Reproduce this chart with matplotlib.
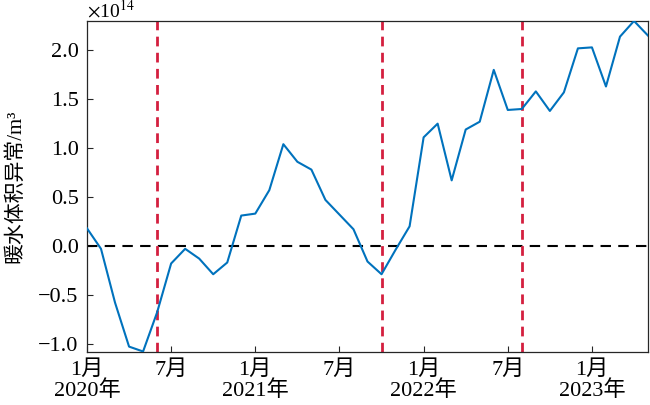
import matplotlib
matplotlib.use("Agg")
import matplotlib.pyplot as plt
import numpy as np

# Monthly warm-water volume anomaly (units of 1e14 m^3), Jan 2020 - May 2023
months = np.arange(41)
values = [0.18, -0.03, -0.58, -1.03, -1.08, -0.68, -0.18, -0.03, -0.13, -0.29,
          -0.17, 0.31, 0.33, 0.57, 1.04, 0.86, 0.78, 0.47, 0.32, 0.17,
          -0.16, -0.29, -0.04, 0.20, 1.11, 1.25, 0.67, 1.19, 1.27, 1.80,
          1.39, 1.40, 1.58, 1.38, 1.57, 2.02, 2.03, 1.63, 2.14, 2.30, 2.15]
event_months = [5, 21, 31]
tick_pos = [0, 6, 12, 18, 24, 30, 36]
tick_labels = ["1月\n2020年", "7月", "1月\n2021年", "7月", "1月\n2022年", "7月", "1月\n2023年"]
yticks = [-1.0, -0.5, 0.0, 0.5, 1.0, 1.5, 2.0]

plt.rcParams['font.family'] = ['Liberation Serif', 'Noto Sans CJK SC', 'DejaVu Sans']
plt.rcParams['mathtext.fontset'] = 'stix'

fig = plt.figure(figsize=(6.5, 4.05), dpi=100)
ax = fig.add_axes([0.1338, 0.1309, 0.8632, 0.8173])

ax.axhline(0, color='black', lw=1.5, dashes=(5, 3.5), zorder=2)
for m in event_months:
    ax.axvline(m, color='#D41F3F', lw=2.0, dashes=(3.5, 2.3), zorder=2)
ax.plot(months, values, color='#0072BD', lw=1.5, zorder=3)

ax.set_xlim(0, 40)
ax.set_ylim(-1.085, 2.30)
ax.set_xticks(tick_pos)
ax.set_xticklabels(tick_labels, fontsize=16, linespacing=1.0)
ax.set_yticks(yticks)
ax.set_yticklabels([f"{v:.1f}".replace('-', '\u2212') for v in yticks], fontsize=16)
ax.tick_params(direction='in', length=4, width=0.8, color='#262626',
               top=False, right=False, pad=6)
for s in ax.spines.values():
    s.set_color('#262626')
    s.set_linewidth(0.9)

ax.set_ylabel("暖水体积异常/m\u00b3", fontsize=15, labelpad=9)
ax.text(0.0, 1.0, r"$\times$10$^{14}$", transform=ax.transAxes,
        fontsize=14, ha='left', va='bottom')

fig.savefig("out.png", dpi=100)
